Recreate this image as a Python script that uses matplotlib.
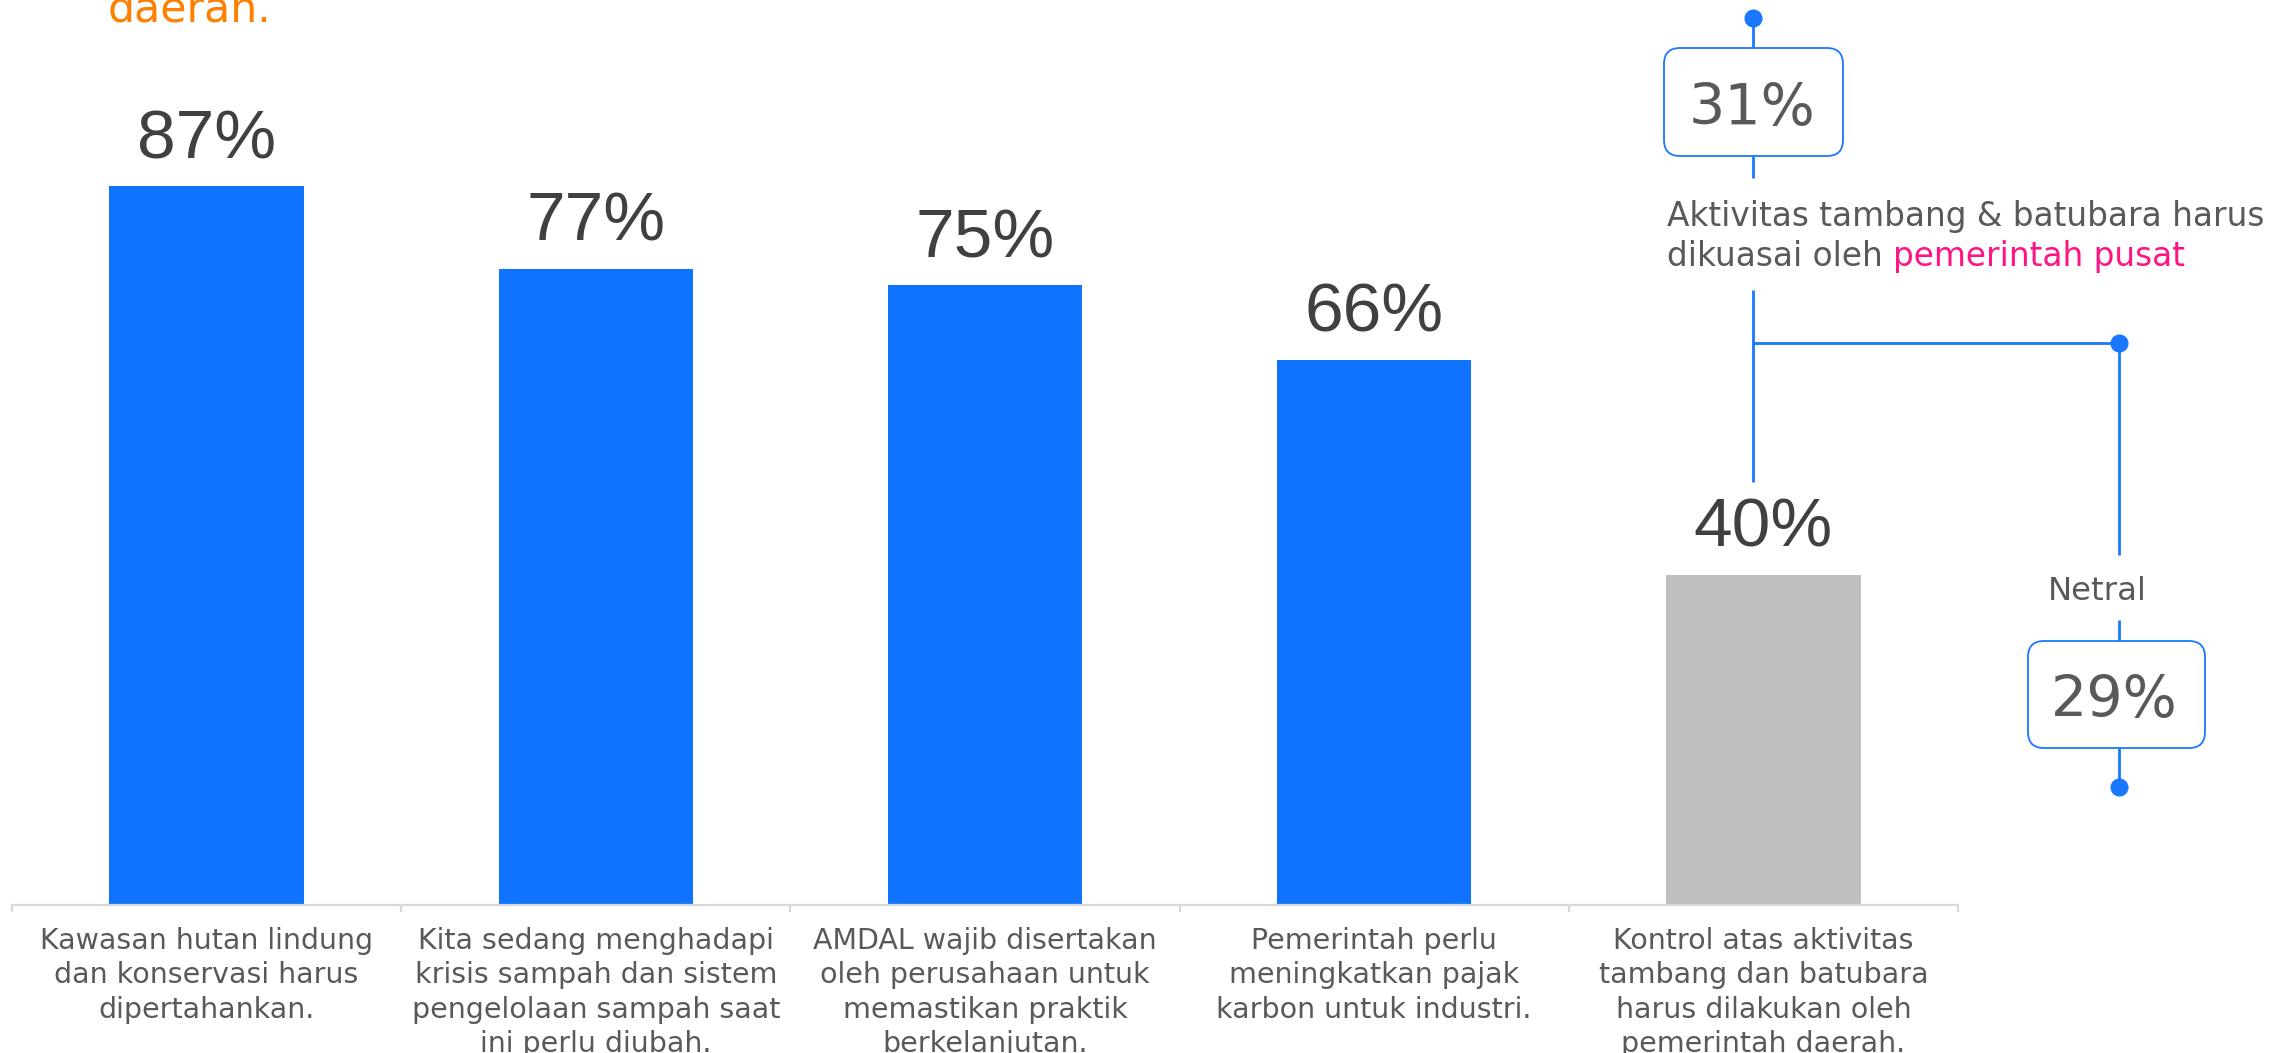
import matplotlib
matplotlib.use("Agg")
import matplotlib.pyplot as plt
from matplotlib.patches import FancyBboxPatch

plt.rcParams["font.family"] = ["DejaVu Sans"]

# data
categories = [
    "Kawasan hutan lindung\ndan konservasi harus\ndipertahankan.",
    "Kita sedang menghadapi\nkrisis sampah dan sistem\npengelolaan sampah saat\nini perlu diubah.",
    "AMDAL wajib disertakan\noleh perusahaan untuk\nmemastikan praktik\nberkelanjutan.",
    "Pemerintah perlu\nmeningkatkan pajak\nkarbon untuk industri.",
    "Kontrol atas aktivitas\ntambang dan batubara\nharus dilakukan oleh\npemerintah daerah.",
]
agree_pct = [87, 77, 75, 66, 40]
highlight = [False, False, False, False, True]
split_pct = [31, 29]          # pemerintah pusat / netral
split_line1 = "Aktivitas tambang & batubara harus"
split_line2 = "dikuasai oleh "
split_pink = "pemerintah pusat"
split_neutral = "Netral"

BLUE = "#0F73FF"
GREY_BAR = "#BFBFBF"
LINE_BLUE = "#1A78FF"
TXT = "#595959"
W, H = 2274, 1053

fig = plt.figure(figsize=(W / 100, H / 100), dpi=100)

# main bar axes (pixel layout: x 12..1958, y 79..905 from top)
ax = fig.add_axes([12 / W, (H - 905) / H, (1958 - 12) / W, (905 - 79) / H])
x = list(range(len(agree_pct)))
colors = [GREY_BAR if h else BLUE for h in highlight]
ax.bar(x, agree_pct, width=0.5, color=colors, zorder=2)
ax.set_xlim(-0.5, len(x) - 0.5)
ax.set_ylim(0, 100)

for s in ["top", "left", "right"]:
    ax.spines[s].set_visible(False)
ax.spines["bottom"].set_color("#D9D9D9")
ax.spines["bottom"].set_linewidth(1.6)
ax.set_yticks([])
ax.set_xticks([i - 0.5 for i in range(len(x) + 1)])
ax.set_xticklabels([])
ax.tick_params(axis="x", length=5, width=1.6, color="#D9D9D9")

for i, v in enumerate(agree_pct):
    ax.text(i, v + 3.4, f"{v}%", ha="center", va="baseline",
            fontsize=50, color="#404040", family="Liberation Sans")
    ax.text(i, -2.7, categories[i], ha="center", va="top",
            fontsize=20.5, color=TXT, linespacing=1.28, clip_on=False)

# overlay in pixel coordinates for the callout tree
ov = fig.add_axes([0, 0, 1, 1])
ov.set_xlim(0, W)
ov.set_ylim(H, 0)
ov.axis("off")
ov.patch.set_alpha(0)

fig.text(108 / W, (H - 21) / H, "daerah.", color="#FF8000", fontsize=30.7,
         va="baseline", ha="left")

lw = 2.0
xa, xb = 1753, 2119
for (x0, y0, x1, y1) in [
    (xa, 18, xa, 48), (xa, 156, xa, 178), (xa, 290, xa, 482),
    (xa, 343, xb, 343), (xb, 343, xb, 555), (xb, 620, xb, 641), (xb, 748, xb, 787),
]:
    ov.plot([x0, x1], [y0, y1], color=LINE_BLUE, lw=lw, solid_capstyle="butt")
ov.plot([xa, xb, xb], [18, 343, 787], "o", color=LINE_BLUE, markersize=12, zorder=5)

for (bx0, by0, bx1, by1) in [(1664, 48, 1843, 156), (2028, 641, 2205, 748)]:
    ov.add_patch(FancyBboxPatch((bx0, by0), bx1 - bx0, by1 - by0,
                                boxstyle="round,pad=0,rounding_size=16",
                                fc="white", ec=LINE_BLUE, lw=1.3, zorder=4))

ov.text(1752, 125, f"{split_pct[0]}%", ha="center", va="baseline",
        fontsize=41, color=TXT, zorder=6)
ov.text(2114, 717, f"{split_pct[1]}%", ha="center", va="baseline",
        fontsize=41, color=TXT, zorder=6)

ov.text(1667, 226, split_line1, ha="left", va="baseline", fontsize=23.6, color=TXT)
t2 = ov.text(1667, 266, split_line2, ha="left", va="baseline", fontsize=23.6, color=TXT)
fig.canvas.draw()
r = fig.canvas.get_renderer()
# pink phrase continues right after the grey part of the second line
bb = t2.get_window_extent(r)
x_end = ov.transData.inverted().transform((bb.x1, bb.y0))[0]
ov.text(x_end, 266, split_pink, ha="left", va="baseline",
        fontsize=23.6, color="#FF1485")

ov.text(2097, 600, split_neutral, ha="center", va="baseline",
        fontsize=23.3, color=TXT)

fig.savefig("out.png", dpi=100)
